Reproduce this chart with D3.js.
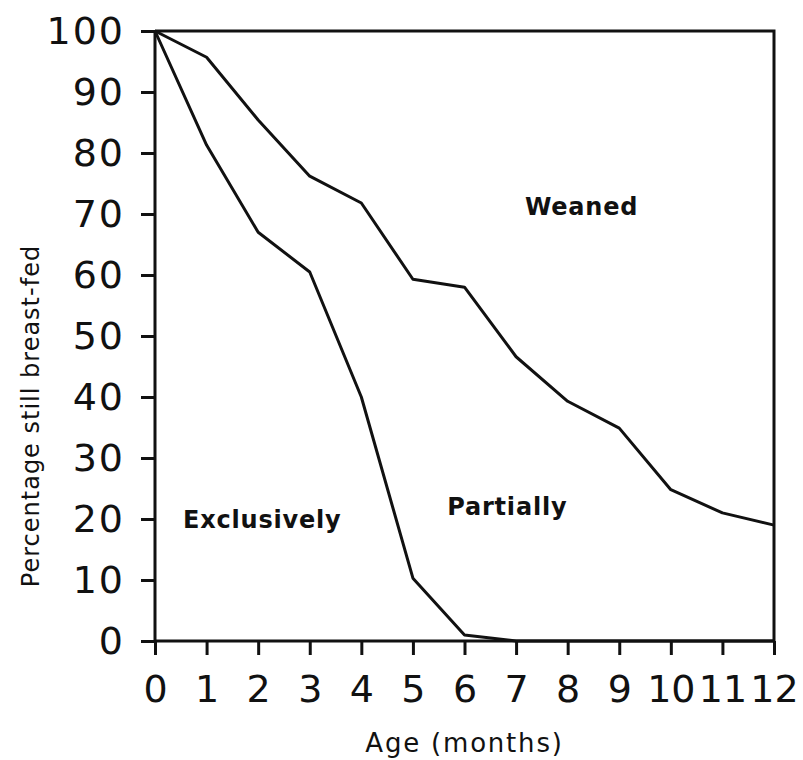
<!DOCTYPE html>
<html>
<head>
<meta charset="utf-8">
<script src="https://cdn.jsdelivr.net/npm/d3@7"></script>
<style>
  body { margin: 0; background: #fff; }
  text { font-family: "DejaVu Sans", sans-serif; fill: #111; }
</style>
</head>
<body>
<svg id="chart" width="803" height="760"></svg>
<script>
var months = [0, 1, 2, 3, 4, 5, 6, 7, 8, 9, 10, 11, 12];
// any breast-feeding (exclusive + partial)
var anyBreast = [100, 95.7, 85.4, 76.2, 71.8, 59.3, 58.0, 46.6, 39.3, 34.9, 24.8, 21.0, 19.0];
// exclusive breast-feeding
var exclusive = [100, 81.3, 67.0, 60.5, 40.0, 10.3, 1.0, 0, 0, 0, 0, 0, 0];
var yTicks = [0, 10, 20, 30, 40, 50, 60, 70, 80, 90, 100];
var regionLabels = [
  {text: "Weaned", m: 8.27, v: 69.9},
  {text: "Partially", m: 6.83, v: 20.6},
  {text: "Exclusively", m: 2.08, v: 18.5}
];

var margin = {top: 31, right: 29, bottom: 119, left: 155}
var svg = d3.select("#chart");
var width = +svg.attr("width") - margin.left - margin.right;
var height = +svg.attr("height") - margin.top - margin.bottom;
var g = svg.append("g").attr("transform", `translate(${margin.left}, ${margin.top})`);

var x = d3.scaleLinear().domain([0, 12]).range([0, width]);
var y = d3.scaleLinear().domain([0, 100]).range([height, 0]);

// axes
var xAxis = g.append("g")
  .attr("transform", `translate(0, ${height})`)
  .call(d3.axisBottom(x).tickValues(months).tickFormat(d3.format("d")).tickSize(14).tickPadding(20));
var yAxis = g.append("g")
  .call(d3.axisLeft(y).tickValues(yTicks).tickFormat(d3.format("d")).tickSize(14).tickPadding(16));

[xAxis, yAxis].forEach(function(a){
  a.select(".domain").attr("stroke", "#111").attr("stroke-width", 3);
  a.selectAll(".tick line").attr("stroke", "#111").attr("stroke-width", 3);
  a.selectAll(".tick text").attr("font-size", 38).attr("fill", "#111")
    .attr("font-family", "'DejaVu Sans', sans-serif");
});
xAxis.selectAll(".domain").attr("d", `M0,0H${width}`);
yAxis.selectAll(".domain").attr("d", `M0,${height}V0`);
xAxis.selectAll(".tick text").attr("dy", "0.72em");
yAxis.selectAll(".tick text").attr("letter-spacing", 2);

// top and right frame
g.append("path")
  .attr("d", `M0,0H${width}V${height}`)
  .attr("fill", "none")
  .attr("stroke", "#111")
  .attr("stroke-width", 3);

var line = d3.line()
  .x((d, i) => x(months[i]))
  .y(d => y(d));

g.append("path")
  .datum(anyBreast)
  .attr("fill", "none")
  .attr("stroke", "#111")
  .attr("stroke-width", 3)
  .attr("stroke-linejoin", "round")
  .attr("d", line);

g.append("path")
  .datum(exclusive)
  .attr("fill", "none")
  .attr("stroke", "#111")
  .attr("stroke-width", 3)
  .attr("stroke-linejoin", "round")
  .attr("d", line);

// region labels
g.selectAll(".region")
  .data(regionLabels)
  .enter().append("text")
  .attr("class", "region")
  .attr("x", d => x(d.m))
  .attr("y", d => y(d.v))
  .attr("text-anchor", "middle")
  .attr("font-size", 24)
  .attr("font-weight", "bold")
  .attr("letter-spacing", 0.8)
  .text(d => d.text);

// axis titles
svg.append("text")
  .attr("x", margin.left + x(6))
  .attr("y", 752)
  .attr("text-anchor", "middle")
  .attr("font-size", 26)
  .attr("letter-spacing", 1.8)
  .text("Age (months)");

svg.append("text")
  .attr("transform", "translate(39, 416) rotate(-90)")
  .attr("text-anchor", "middle")
  .attr("font-size", 24)
  .attr("letter-spacing", 1)
  .text("Percentage still breast-fed");
</script>
</body>
</html>
